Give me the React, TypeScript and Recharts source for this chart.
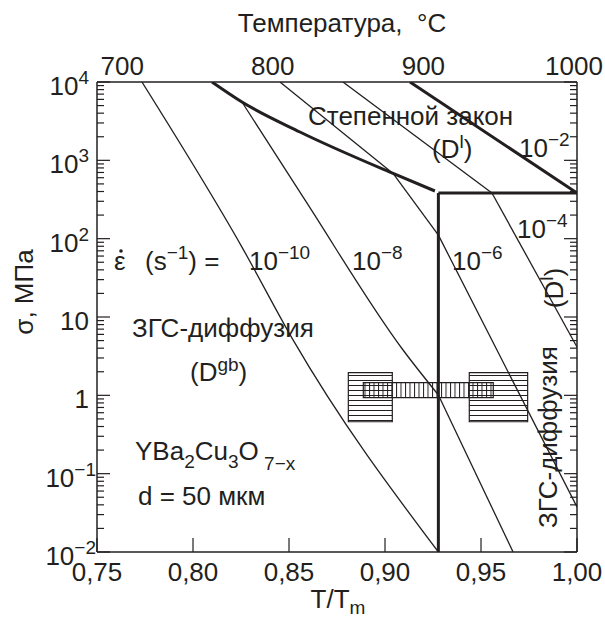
import React from "react";
import { ComposedChart, Line, XAxis, YAxis, ReferenceArea } from "recharts";

// Карта механизмов деформации YBa2Cu3O7-x (d = 50 мкм)
const INK = "#231f20";
const FONT = "'Liberation Sans', Arial, Helvetica, sans-serif";

// нижняя ось T/Tm
const X_TICKS = [0.75, 0.8, 0.85, 0.9, 0.95, 1.0];
// верхняя ось, °C (Tm в K)
const TEMP_C = [700, 800, 900, 1000];
const TM_K = 1275;

// ось σ, МПа (логарифм)
const Y_MAJOR = [0.01, 0.1, 1, 10, 100, 1000, 10000];
const Y_BASE = ["10", "10", "1", "10", "10", "10", "10"];
const Y_SUP = ["−2", "−1", "", "", "2", "3", "4"];
const Y_MINOR_MULT = [2, 3, 4, 5, 6, 7, 8, 9];

// линии постоянной скорости деформации (s^-1)
const RATE_E10 = [
  { x: 0.7734, y: 10000 },
  { x: 0.8255, y: 78 },
  { x: 0.8521, y: 5.1 },
  { x: 0.9278, y: 0.01 },
];
const RATE_E8_A = [
  { x: 0.8255, y: 5556 },
  { x: 0.8583, y: 312 },
  { x: 0.9094, y: 3.79 },
  { x: 0.9278, y: 1.01 },
];
const RATE_E8_B = [
  { x: 0.9278, y: 1.01 },
  { x: 0.9667, y: 0.01 },
];
const RATE_E6_PL = [
  { x: 0.8453, y: 10000 },
  { x: 0.9042, y: 680 },
];
const RATE_E6_A = [
  { x: 0.9042, y: 680 },
  { x: 0.9278, y: 111 },
];
const RATE_E6_B = [
  { x: 0.9278, y: 111 },
  { x: 0.9583, y: 3.79 },
  { x: 1.0, y: 0.0375 },
];
const RATE_E4_PL = [
  { x: 0.8781, y: 10000 },
  { x: 0.9557, y: 383 },
];
const RATE_E4_B = [
  { x: 0.9557, y: 383 },
  { x: 1.0, y: 4.14 },
];
const RATE_E2 = [
  { x: 0.913, y: 10000 },
  { x: 1.0, y: 383 },
];

// границы полей (жирные)
const BOUNDARY_PL = [
  { x: 0.8099, y: 10000 },
  { x: 0.8255, y: 5556 },
  { x: 0.8557, y: 2300 },
  { x: 0.9042, y: 680 },
  { x: 0.926, y: 406 },
];
const BOUNDARY_H = [
  { x: 0.9278, y: 383 },
  { x: 1.0, y: 383 },
];
const BOUNDARY_V = [
  { x: 0.9278, y: 383 },
  { x: 0.9278, y: 0.01 },
];

// экспериментальные области (штриховка)
const BOX_A = { x1: 0.8809, x2: 0.9038, y1: 0.46, y2: 1.945 };
const BOX_B = { x1: 0.9439, x2: 0.9743, y1: 0.46, y2: 1.945 };
const BAND = { x1: 0.8887, x2: 0.9564, y1: 0.933, y2: 1.449 };

const THIN = [RATE_E10, RATE_E8_A, RATE_E8_B, RATE_E6_PL, RATE_E6_A, RATE_E6_B, RATE_E4_PL, RATE_E4_B];
const THICK = [BOUNDARY_PL, RATE_E2, BOUNDARY_H, BOUNDARY_V];

const Y_TICKS = [
  ...Y_MAJOR,
  ...Y_MAJOR.slice(0, -1).flatMap((d) => Y_MINOR_MULT.map((m) => m * d)),
].sort((a, b) => a - b);
const TOP_TICKS = TEMP_C.map((c) => (c + 273) / TM_K);

const txt = { fill: INK, fontFamily: FONT } as const;
const FS = 26;
const FS_SUP = 19;

const LeftTick = (props: any) => {
  const { x, y, payload } = props;
  const i = Y_MAJOR.indexOf(payload.value);
  const major = i >= 0;
  const neg = major && Y_SUP[i].startsWith("−");
  return (
    <g>
      <line x1={x} y1={y} x2={x + (major ? 13 : 7)} y2={y} stroke={INK} strokeWidth={1.2} />
      {major && (
        <text x={neg ? x - 1 : x - 8} y={y + 13} textAnchor="end" fontSize={FS} {...txt}>
          {Y_BASE[i]}
          {Y_SUP[i] && (
            <tspan dy={-11} fontSize={FS_SUP}>
              {Y_SUP[i]}
            </tspan>
          )}
        </text>
      )}
    </g>
  );
};

const RightTick = (props: any) => {
  const { x, y, payload } = props;
  const major = Y_MAJOR.indexOf(payload.value) >= 0;
  return <line x1={x} y1={y} x2={x - (major ? 13 : 7)} y2={y} stroke={INK} strokeWidth={1.2} />;
};

const BottomTick = (props: any) => {
  const { x, y, payload } = props;
  return (
    <g>
      <line x1={x} y1={y} x2={x} y2={y - 14} stroke={INK} strokeWidth={1.2} />
      <text x={x} y={y + 29} textAnchor="middle" fontSize={FS} {...txt}>
        {payload.value.toFixed(2).replace(".", ",")}
      </text>
    </g>
  );
};

const TopTick = (props: any) => {
  const { x, y, payload } = props;
  const i = TOP_TICKS.indexOf(payload.value);
  return (
    <text x={x} y={y - 7} textAnchor="middle" fontSize={FS} {...txt}>
      {TEMP_C[i]}
    </text>
  );
};

const Pow = ({ x, y, sup }: { x: number; y: number; sup: string }) => (
  <text x={x} y={y} fontSize={FS} {...txt}>
    10
    <tspan dy={-11} fontSize={FS_SUP}>
      {sup}
    </tspan>
  </text>
);

export default function App() {
  return (
    <div style={{ position: "absolute", left: 0, top: 0, width: 605, height: 622, background: "#fff" }}>
      <ComposedChart width={605} height={622} margin={{ top: 42, right: 27, bottom: 30, left: 37 }}>
        <defs>
          <pattern id="hatchH" width="10" height="5" patternUnits="userSpaceOnUse">
            <line x1="0" y1="0.5" x2="10" y2="0.5" stroke={INK} strokeWidth={1} />
          </pattern>
          <pattern id="hatchV" width="4.5" height="10" patternUnits="userSpaceOnUse">
            <line x1="0.5" y1="0" x2="0.5" y2="10" stroke={INK} strokeWidth={1} />
          </pattern>
        </defs>
        <XAxis
          xAxisId="b"
          type="number"
          dataKey="x"
          domain={[0.75, 1]}
          allowDataOverflow
          ticks={X_TICKS}
          interval={0}
          height={40}
          tickSize={0}
          tickMargin={0}
          tickLine={false}
          tick={BottomTick}
          axisLine={{ stroke: INK, strokeWidth: 1.5 }}
        />
        <XAxis
          xAxisId="t"
          orientation="top"
          type="number"
          dataKey="x"
          domain={[0.75, 1]}
          allowDataOverflow
          ticks={TOP_TICKS}
          interval={0}
          height={40}
          tickSize={0}
          tickMargin={0}
          tickLine={false}
          tick={TopTick}
          axisLine={{ stroke: INK, strokeWidth: 1.5 }}
        />
        <YAxis
          yAxisId="l"
          type="number"
          scale="log"
          domain={[0.01, 10000]}
          allowDataOverflow
          ticks={Y_TICKS}
          interval={0}
          width={60}
          tickSize={0}
          tickMargin={0}
          tickLine={false}
          tick={LeftTick}
          axisLine={{ stroke: INK, strokeWidth: 1.5 }}
        />
        <YAxis
          yAxisId="r"
          orientation="right"
          type="number"
          scale="log"
          domain={[0.01, 10000]}
          allowDataOverflow
          ticks={Y_TICKS}
          interval={0}
          width={1}
          tickSize={0}
          tickMargin={0}
          tickLine={false}
          tick={RightTick}
          axisLine={{ stroke: INK, strokeWidth: 1.5 }}
        />

        {[BOX_A, BOX_B].map((b, i) => (
          <ReferenceArea
            key={`box${i}`}
            xAxisId="b"
            yAxisId="l"
            x1={b.x1}
            x2={b.x2}
            y1={b.y1}
            y2={b.y2}
            fill="url(#hatchH)"
            fillOpacity={1}
            stroke={INK}
            strokeWidth={1.2}
          />
        ))}
        <ReferenceArea
          xAxisId="b"
          yAxisId="l"
          x1={BAND.x1}
          x2={BAND.x2}
          y1={BAND.y1}
          y2={BAND.y2}
          fill="url(#hatchV)"
          fillOpacity={1}
          stroke={INK}
          strokeWidth={1.2}
        />

        {THIN.map((d, i) => (
          <Line
            key={`thin${i}`}
            xAxisId="b"
            yAxisId="l"
            data={d}
            dataKey="y"
            type={d.length > 2 ? "monotone" : "linear"}
            stroke={INK}
            strokeWidth={1.3}
            dot={false}
            activeDot={false}
            isAnimationActive={false}
          />
        ))}
        {THICK.map((d, i) => (
          <Line
            key={`thick${i}`}
            xAxisId="b"
            yAxisId="l"
            data={d}
            dataKey="y"
            type={d.length > 2 ? "monotone" : "linear"}
            stroke={INK}
            strokeWidth={3}
            dot={false}
            activeDot={false}
            isAnimationActive={false}
          />
        ))}

        {/* подписи осей */}
        <text x={342} y={32} textAnchor="middle" fontSize={FS} {...txt}>
          Температура,{"\u00a0\u00a0"}°C
        </text>
        <text x={338} y={608} textAnchor="middle" fontSize={FS} {...txt}>
          T/T
          <tspan dy={6} fontSize={FS_SUP}>
            m
          </tspan>
        </text>
        <text x={24} y={301} transform="rotate(-90 24 292)" textAnchor="middle" fontSize={FS} {...txt}>
          σ, МПа
        </text>

        {/* подписи полей */}
        <text x={308} y={125} fontSize={FS} {...txt}>
          Степенной закон
        </text>
        <text x={432} y={158} fontSize={FS} {...txt}>
          (D
          <tspan dy={-10} fontSize={FS_SUP}>
            l
          </tspan>
          <tspan dy={10}>)</tspan>
        </text>
        <text x={132} y={337} fontSize={FS} {...txt}>
          ЗГС-диффузия
        </text>
        <text x={190} y={381} fontSize={FS} {...txt}>
          (D
          <tspan dy={-10} fontSize={FS_SUP}>
            gb
          </tspan>
          <tspan dy={10}>)</tspan>
        </text>
        <text x={563} y={288} transform="rotate(-90 563 288)" textAnchor="middle" fontSize={FS} {...txt}>
          (D
          <tspan dy={-10} fontSize={FS_SUP}>
            l
          </tspan>
          <tspan dy={10}>)</tspan>
        </text>
        <text x={557} y={437} transform="rotate(-90 557 437)" textAnchor="middle" fontSize={FS} {...txt}>
          ЗГС-диффузия
        </text>

        {/* скорости деформации: ε с точкой */}
        <text x={114} y={270} fontSize={FS} {...txt}>
          ε
        </text>
        <circle cx={121} cy={251} r={1.8} fill={INK} />
        <text x={145} y={270} fontSize={FS} {...txt}>
          (s
          <tspan dy={-11} fontSize={FS_SUP}>
            −1
          </tspan>
          <tspan dy={11}>{")\u00a0="}</tspan>
        </text>
        <Pow x={249} y={270} sup="−10" />
        <Pow x={352} y={270} sup="−8" />
        <Pow x={452} y={270} sup="−6" />
        <Pow x={517} y={238} sup="−4" />
        <Pow x={519} y={157} sup="−2" />

        {/* материал */}
        <text x={135} y={460} fontSize={FS} {...txt}>
          YBa
          <tspan dy={8} fontSize={FS_SUP}>
            2
          </tspan>
          <tspan dy={-8}>Cu</tspan>
          <tspan dy={8} fontSize={FS_SUP}>
            3
          </tspan>
          <tspan dy={-8}>O</tspan>
          <tspan dy={10} fontSize={FS_SUP}>
            {"\u00a07−x"}
          </tspan>
        </text>
        <text x={138} y={505} fontSize={FS} {...txt}>
          d = 50 мкм
        </text>
      </ComposedChart>
    </div>
  );
}
